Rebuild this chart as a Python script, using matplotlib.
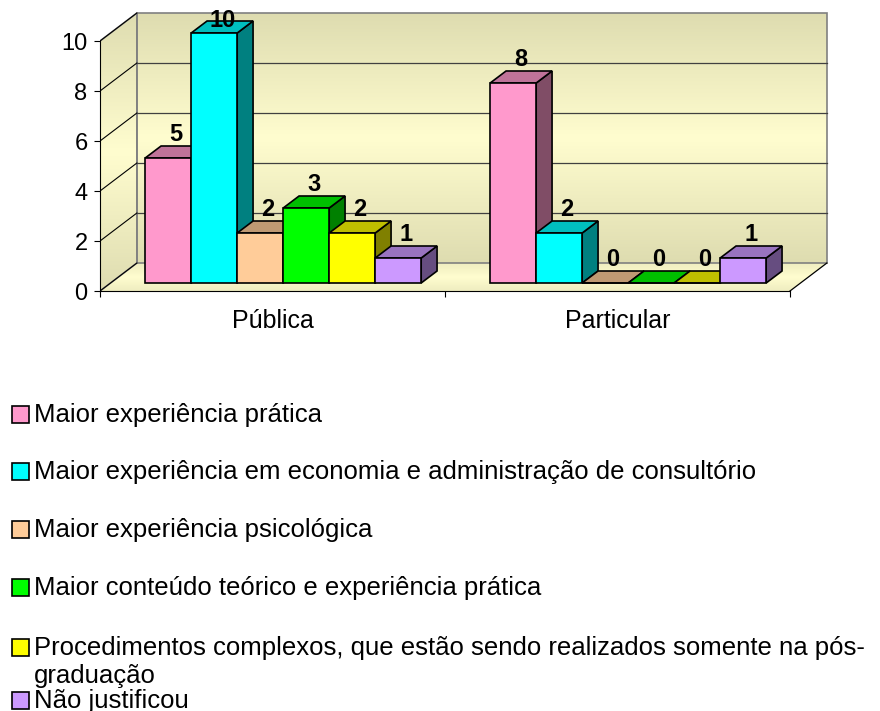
import numpy as np
import matplotlib.pyplot as plt
from matplotlib.patches import Polygon, Rectangle
from matplotlib.colors import LinearSegmentedColormap

plt.rcParams['font.family'] = ['Liberation Sans', 'DejaVu Sans']

categories = ["Pública", "Particular"]
series_names = [
    "Maior experiência prática",
    "Maior experiência em economia e administração de consultório",
    "Maior experiência psicológica",
    "Maior conteúdo teórico e experiência prática",
    "Procedimentos complexos, que estão sendo realizados somente na pós-\ngraduação",
    "Não justificou",
]
maior_pratica = [5, 8]
economia_adm = [10, 2]
psicologica = [2, 0]
teorico_pratica = [3, 0]
procedimentos = [2, 0]
nao_justificou = [1, 1]
series = [maior_pratica, economia_adm, psicologica, teorico_pratica, procedimentos, nao_justificou]

front_colors = ["#FF99CC", "#00FFFF", "#FFCC99", "#00FF00", "#FFFF00", "#CC99FF"]
top_colors = ["#BF7399", "#00BFBF", "#BF9973", "#00BF00", "#BFBF00", "#9973BF"]
side_colors = ["#804D66", "#008080", "#806650", "#008000", "#808000", "#664D80"]
yticks = [0, 2, 4, 6, 8, 10]

# pseudo 3d geometry (data units)
DX, DY = 0.107, 1.12      # wall depth
bw = 0.8 / len(series)    # bar width
bx0, by0 = 0.031, 0.32    # bar front offset into depth
bdx, bdy = 0.046, 0.48    # bar depth

fig = plt.figure(figsize=(8.8, 7.11), dpi=100)
ax = fig.add_axes([100 / 880, 1 - 291 / 711, 730 / 880, 281 / 711])
ax.set_xlim(-0.5, 1.616)
ax.set_ylim(0, 11.24)

x0, x1 = -0.5, len(categories) - 0.5
ymax = yticks[-1]
wall_cmap = LinearSegmentedColormap.from_list("wall", ["#DEDCB0", "#FFFDCF", "#DEDCB0"])

# walls and floor with gradients
back = Polygon([(x0 + DX, DY), (x1 + DX, DY), (x1 + DX, ymax + DY), (x0 + DX, ymax + DY)],
               closed=True, facecolor="none", edgecolor="#808080", lw=1.2, zorder=2)
side = Polygon([(x0, 0), (x0 + DX, DY), (x0 + DX, ymax + DY), (x0, ymax)],
               closed=True, facecolor="none", edgecolor="#808080", lw=1.2, zorder=2)
floor = Polygon([(x0, 0), (x1, 0), (x1 + DX, DY), (x0 + DX, DY)],
                closed=True, facecolor="none", edgecolor="none", zorder=2)
grad = np.linspace(0, 1, 256).reshape(-1, 1)
for poly, ext, g in [(back, [x0 + DX, x1 + DX, DY, ymax + DY], grad),
                     (side, [x0, x0 + DX, 0, ymax + DY], grad),
                     (floor, [x0, x1 + DX, 0, DY], grad * 0.5 + 0.25)]:
    ax.add_patch(poly)
    im = ax.imshow(g, extent=ext, origin="lower", aspect="auto", cmap=wall_cmap,
                   vmin=0, vmax=1, zorder=1)
    im.set_clip_path(poly)

# gridlines
for v in yticks:
    ax.plot([x0, x0 + DX], [v, v + DY], color="black", lw=0.8, zorder=3)
    if 0 < v < ymax:
        ax.plot([x0 + DX, x1 + DX], [v + DY, v + DY], color="#404040", lw=0.9, zorder=3)
ax.plot([x1, x1 + DX], [0, DY], color="black", lw=0.9, zorder=3)

# bars
xc = np.arange(len(categories))
for j, vals in enumerate(series):
    z = 10 + j
    left = xc - 0.4 + j * bw + bx0
    for xl, v in zip(left, vals):
        ax.add_patch(Polygon([(xl + bw, by0), (xl + bw + bdx, by0 + bdy),
                              (xl + bw + bdx, by0 + v + bdy), (xl + bw, by0 + v)],
                             closed=True, facecolor=side_colors[j], edgecolor="black", lw=1.2, zorder=z))
        ax.add_patch(Polygon([(xl, by0 + v), (xl + bw, by0 + v),
                              (xl + bw + bdx, by0 + v + bdy), (xl + bdx, by0 + v + bdy)],
                             closed=True, facecolor=top_colors[j], edgecolor="black", lw=1.2, zorder=z))
    ax.bar(left, vals, width=bw, bottom=by0, align="edge", color=front_colors[j],
           edgecolor="black", lw=1.2, zorder=z)
    for xl, v in zip(left, vals):
        ax.text(xl + bw / 2 + bdx / 2, min(by0 + v + bdy, 10.36), str(v), ha="center", va="bottom",
                fontsize=17, fontweight="bold", zorder=30)

# axes
for s in ["top", "right"]:
    ax.spines[s].set_visible(False)
ax.spines["left"].set_bounds(0, ymax)
ax.spines["bottom"].set_bounds(x0, x1)
ax.set_yticks(yticks)
ax.tick_params(axis="y", length=4, pad=5, labelsize=17)
ax.set_xticks(np.arange(x0, x1 + 0.01, 1.0))
ax.set_xticklabels([])
ax.tick_params(axis="x", which="major", length=4.5)
ax.set_xticks(xc, minor=True)
ax.set_xticklabels(categories, minor=True, fontsize=18)
ax.tick_params(axis="x", which="minor", length=0, pad=13)
ax.patch.set_visible(False)

# legend (baselines in pixels from top)
legend_base = [422, 479, 537, 595, 655, 708]
line_gap = 28
for name, col, yb in zip(series_names, front_colors, legend_base):
    fig.add_artist(Rectangle((12 / 880, 1 - (yb + 1) / 711), 17 / 880, 17 / 711,
                             transform=fig.transFigure, facecolor=col, edgecolor="black", lw=1.2))
    for k, line in enumerate(name.split("\n")):
        fig.text(34 / 880, 1 - (yb + k * line_gap) / 711, line, fontsize=18.5,
                 va="baseline", ha="left")

fig.savefig("out.png", dpi=100)
